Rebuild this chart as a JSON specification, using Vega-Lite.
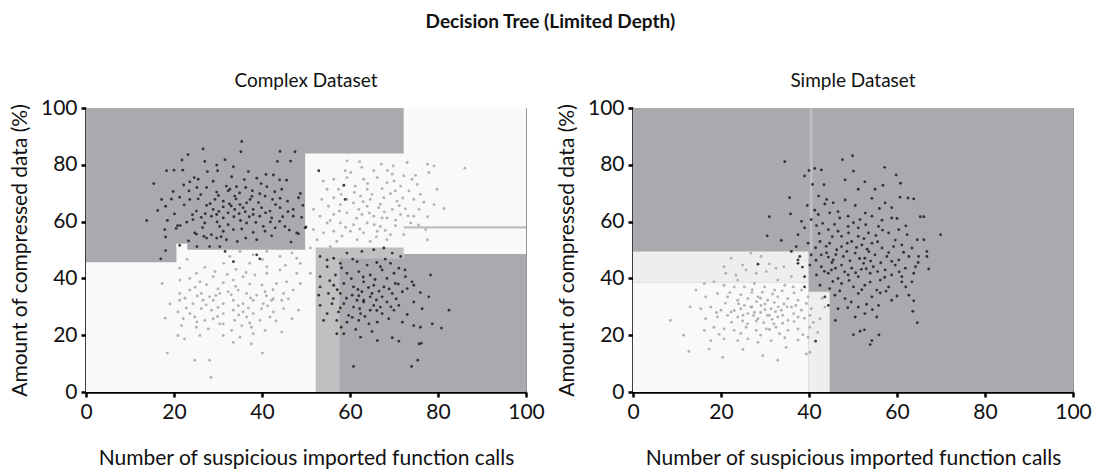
{
"$schema":"https://vega.github.io/schema/vega-lite/v6.json",
"background":"white",
"padding":{"left":8,"top":12,"right":5,"bottom":5},
"title":{"text":"Decision Tree (Limited Depth)","fontSize":19,"fontWeight":"bold","anchor":"middle","offset":40,"color":"#111"},
"datasets":{
"complexRegions":[
{"x":0,"x2":100,"y":0,"y2":100,"region":"light"},
{"x":0,"x2":49.8,"y":50.1,"y2":100,"region":"dark"},
{"x":49.6,"x2":72.2,"y":84.0,"y2":100,"region":"dark"},
{"x":20.5,"x2":23.0,"y":50.0,"y2":52.2,"region":"light"},
{"x":0,"x2":20.55,"y":45.7,"y2":51.0,"region":"dark"},
{"x":52.2,"x2":57.7,"y":0,"y2":50.9,"region":"mid"},
{"x":57.6,"x2":72.2,"y":47.0,"y2":50.9,"region":"mid"},
{"x":57.6,"x2":72.3,"y":0,"y2":47.1,"region":"dark"},
{"x":72.2,"x2":100,"y":0,"y2":48.6,"region":"dark"},
{"x":72.2,"x2":100,"y":57.6,"y2":58.4,"region":"mid"}
],
"simpleRegions":[
{"x":0,"x2":100,"y":0,"y2":100,"region":"dark"},
{"x":40.2,"x2":40.8,"y":49.5,"y2":100,"region":"mid"},
{"x":0,"x2":39.9,"y":38.6,"y2":49.5,"region":"offwhite"},
{"x":0,"x2":39.9,"y":0,"y2":38.6,"region":"light"},
{"x":39.9,"x2":44.7,"y":0,"y2":35.3,"region":"offwhite"}
],
"complexDark":[
{"x":35.4,"y":88.2},{"x":26.6,"y":85.6},{"x":35.2,"y":84.6},{"x":23.2,"y":83.6},{"x":44.1,"y":84.7},{"x":47.5,"y":84.6},{"x":21.8,"y":81.7},{"x":27.0,"y":81.2},{"x":31.6,"y":81.8},{"x":43.5,"y":81.2},{"x":46.5,"y":81.3},{"x":29.7,"y":79.9},{"x":33.5,"y":79.3},{"x":18.3,"y":77.9},{"x":20.0,"y":78.1},{"x":22.0,"y":78.1},{"x":27.6,"y":77.6},{"x":29.9,"y":77.9},{"x":36.9,"y":77.6},{"x":40.9,"y":76.6},{"x":38.8,"y":75.3},{"x":42.6,"y":76.4},{"x":44.0,"y":74.7},{"x":45.6,"y":74.6},{"x":15.4,"y":73.4},{"x":24.6,"y":75.5},{"x":25.5,"y":74.9},{"x":23.6,"y":74.0},{"x":31.9,"y":72.5},{"x":34.2,"y":72.3},{"x":36.3,"y":72.0},{"x":41.1,"y":72.3},{"x":23.4,"y":70.8},{"x":25.2,"y":72.0},{"x":27.4,"y":72.0},{"x":29.7,"y":70.4},{"x":32.3,"y":70.8},{"x":39.5,"y":69.8},{"x":44.5,"y":71.4},{"x":48.7,"y":69.9},{"x":17.2,"y":67.8},{"x":19.4,"y":67.9},{"x":21.3,"y":68.6},{"x":23.6,"y":67.8},{"x":25.5,"y":68.0},{"x":29.3,"y":67.8},{"x":31.2,"y":67.2},{"x":34.1,"y":68.0},{"x":35.0,"y":66.0},{"x":37.3,"y":67.8},{"x":40.7,"y":69.0},{"x":42.4,"y":67.8},{"x":44.1,"y":68.2},{"x":48.3,"y":68.4},{"x":18.1,"y":65.4},{"x":22.3,"y":65.9},{"x":25.1,"y":63.7},{"x":27.4,"y":65.7},{"x":28.9,"y":64.3},{"x":31.2,"y":65.2},{"x":33.8,"y":64.3},{"x":35.7,"y":64.9},{"x":38.0,"y":64.3},{"x":39.9,"y":64.9},{"x":41.8,"y":63.7},{"x":44.1,"y":64.9},{"x":47.1,"y":64.3},{"x":49.3,"y":65.7},{"x":13.8,"y":60.4},{"x":18.5,"y":60.4},{"x":20.8,"y":58.6},{"x":21.4,"y":58.6},{"x":24.3,"y":60.7},{"x":26.2,"y":61.5},{"x":28.5,"y":61.9},{"x":31.2,"y":61.3},{"x":33.6,"y":61.7},{"x":37.1,"y":61.7},{"x":39.5,"y":61.9},{"x":42.2,"y":61.3},{"x":44.7,"y":61.7},{"x":47.1,"y":61.9},{"x":49.0,"y":61.5},{"x":17.9,"y":57.2},{"x":20.5,"y":57.6},{"x":24.7,"y":56.0},{"x":26.8,"y":54.8},{"x":28.5,"y":55.4},{"x":31.2,"y":56.6},{"x":33.5,"y":57.2},{"x":35.4,"y":57.4},{"x":38.0,"y":56.2},{"x":40.7,"y":56.6},{"x":43.0,"y":57.8},{"x":45.2,"y":58.3},{"x":47.9,"y":56.0},{"x":49.8,"y":57.8},{"x":18.1,"y":54.6},{"x":25.1,"y":55.6},{"x":27.4,"y":54.2},{"x":29.7,"y":54.2},{"x":31.9,"y":53.6},{"x":34.4,"y":53.0},{"x":38.8,"y":53.6},{"x":46.6,"y":52.8},{"x":18.1,"y":49.8},{"x":21.3,"y":51.6},{"x":25.2,"y":51.2},{"x":28.1,"y":51.2},{"x":30.4,"y":51.2},{"x":31.6,"y":49.5},{"x":17.0,"y":46.9},{"x":33.5,"y":45.9},{"x":38.8,"y":48.3},{"x":39.5,"y":46.9},{"x":52.9,"y":77.9},{"x":58.6,"y":72.8},{"x":58.9,"y":67.8},{"x":50.0,"y":58.1},{"x":48.3,"y":55.7},{"x":32.7,"y":71.4},{"x":33.8,"y":69.0},{"x":36.5,"y":66.6},{"x":38.0,"y":62.5},{"x":29.7,"y":62.5},{"x":27.0,"y":59.5},{"x":32.3,"y":63.1},{"x":36.5,"y":59.5},{"x":40.3,"y":58.3},{"x":30.4,"y":58.3},
{"x":30.1,"y":69.2},{"x":34.9,"y":70.1},{"x":37.8,"y":70.9},{"x":42.9,"y":70.5},{"x":26.1,"y":69.5},{"x":28.2,"y":66.3},{"x":32.6,"y":66.2},{"x":36.2,"y":63.5},{"x":39.2,"y":66.7},{"x":43.1,"y":66.0},{"x":45.8,"y":67.2},{"x":24.2,"y":62.4},{"x":30.2,"y":63.6},{"x":34.8,"y":62.8},{"x":40.8,"y":63.1},{"x":45.9,"y":63.5},{"x":26.5,"y":57.9},{"x":29.8,"y":59.9},{"x":32.3,"y":58.9},{"x":35.1,"y":60.4},{"x":38.6,"y":59.7},{"x":41.9,"y":59.9},{"x":44.0,"y":60.1},{"x":46.2,"y":57.0},{"x":22.9,"y":59.8},{"x":20.1,"y":62.7},{"x":16.3,"y":63.9},{"x":19.8,"y":70.6},{"x":22.2,"y":72.9},{"x":28.9,"y":74.2},{"x":33.1,"y":75.8},{"x":36.0,"y":74.8},{"x":39.8,"y":73.4},{"x":30.7,"y":54.7},{"x":36.3,"y":54.2},{"x":42.2,"y":55.0},{"x":23.3,"y":53.2},{"x":27.1,"y":62.8},{"x":33.0,"y":65.5},{"x":37.7,"y":68.9}
],
"complexLight":[
{"x":23.0,"y":46.7},{"x":21.3,"y":43.6},{"x":25.1,"y":41.8},{"x":29.3,"y":42.4},{"x":31.3,"y":45.3},{"x":32.7,"y":47.7},{"x":35.0,"y":49.5},{"x":38.0,"y":48.3},{"x":41.1,"y":49.5},{"x":44.1,"y":47.7},{"x":47.9,"y":47.1},{"x":17.3,"y":38.2},{"x":21.3,"y":39.4},{"x":23.6,"y":40.0},{"x":25.9,"y":38.8},{"x":28.9,"y":40.6},{"x":31.2,"y":38.5},{"x":33.5,"y":39.4},{"x":35.7,"y":40.6},{"x":38.4,"y":41.2},{"x":41.1,"y":41.8},{"x":43.3,"y":38.2},{"x":45.6,"y":38.8},{"x":47.9,"y":41.8},{"x":48.7,"y":38.2},{"x":21.3,"y":34.7},{"x":23.6,"y":35.9},{"x":26.2,"y":34.7},{"x":28.1,"y":33.5},{"x":30.4,"y":34.7},{"x":32.3,"y":35.3},{"x":34.6,"y":35.9},{"x":36.5,"y":34.7},{"x":38.8,"y":34.1},{"x":40.7,"y":35.3},{"x":42.6,"y":32.9},{"x":44.9,"y":34.7},{"x":47.1,"y":35.9},{"x":21.3,"y":32.3},{"x":24.3,"y":31.1},{"x":26.6,"y":32.3},{"x":28.9,"y":32.3},{"x":31.2,"y":31.1},{"x":33.5,"y":32.3},{"x":35.7,"y":31.1},{"x":38.0,"y":32.3},{"x":40.3,"y":31.1},{"x":42.2,"y":32.3},{"x":44.5,"y":32.3},{"x":20.9,"y":28.2},{"x":23.6,"y":27.6},{"x":26.2,"y":29.3},{"x":28.5,"y":28.8},{"x":31.2,"y":27.6},{"x":33.5,"y":28.8},{"x":35.7,"y":28.2},{"x":38.0,"y":27.6},{"x":39.9,"y":29.3},{"x":42.6,"y":28.2},{"x":44.9,"y":29.3},{"x":48.3,"y":28.8},{"x":22.1,"y":25.8},{"x":24.7,"y":26.4},{"x":27.0,"y":25.2},{"x":28.9,"y":25.8},{"x":31.2,"y":24.0},{"x":33.8,"y":25.2},{"x":36.5,"y":26.4},{"x":39.5,"y":25.2},{"x":41.8,"y":26.4},{"x":21.7,"y":23.4},{"x":25.1,"y":22.8},{"x":27.8,"y":22.2},{"x":30.4,"y":24.0},{"x":33.1,"y":21.7},{"x":35.4,"y":23.4},{"x":37.6,"y":22.8},{"x":40.7,"y":21.7},{"x":44.5,"y":21.1},{"x":20.9,"y":19.9},{"x":22.4,"y":18.7},{"x":25.9,"y":19.9},{"x":31.2,"y":19.9},{"x":33.5,"y":17.5},{"x":37.6,"y":16.9},{"x":18.5,"y":13.7},{"x":24.7,"y":11.2},{"x":28.1,"y":11.2},{"x":40.1,"y":13.7},{"x":28.4,"y":5.1},{"x":38.0,"y":20.5},{"x":35.0,"y":19.3},
{"x":24.8,"y":36.9},{"x":27.4,"y":37.8},{"x":30.0,"y":36.3},{"x":34.0,"y":37.2},{"x":37.2,"y":38.0},{"x":40.0,"y":37.7},{"x":42.5,"y":36.0},{"x":22.5,"y":33.0},{"x":25.3,"y":33.8},{"x":29.5,"y":34.0},{"x":33.0,"y":34.2},{"x":37.4,"y":33.1},{"x":41.0,"y":33.9},{"x":46.0,"y":32.8},{"x":22.8,"y":29.6},{"x":27.3,"y":30.7},{"x":30.0,"y":29.8},{"x":34.6,"y":30.4},{"x":36.9,"y":29.6},{"x":41.3,"y":30.3},{"x":25.2,"y":24.7},{"x":29.9,"y":26.6},{"x":34.7,"y":27.1},{"x":37.2,"y":24.3},{"x":43.2,"y":25.0},{"x":27.0,"y":43.9},{"x":34.1,"y":43.2},{"x":37.2,"y":45.3},{"x":40.1,"y":46.6},{"x":45.3,"y":44.6},{"x":19.1,"y":31.0},{"x":18.0,"y":26.0},{"x":46.8,"y":25.8},{"x":32.1,"y":41.4},{"x":36.4,"y":42.1},
{"x":59.3,"y":81.4},{"x":62.2,"y":81.1},{"x":67.1,"y":80.2},{"x":69.8,"y":79.6},{"x":73.0,"y":80.8},{"x":77.6,"y":80.2},{"x":86.1,"y":78.8},{"x":58.9,"y":77.9},{"x":62.7,"y":79.1},{"x":65.4,"y":77.9},{"x":69.6,"y":76.7},{"x":72.2,"y":76.1},{"x":74.1,"y":74.9},{"x":77.9,"y":77.3},{"x":56.3,"y":74.9},{"x":59.3,"y":75.5},{"x":63.1,"y":74.9},{"x":66.2,"y":75.5},{"x":68.4,"y":73.7},{"x":71.5,"y":72.5},{"x":75.3,"y":73.1},{"x":79.8,"y":71.4},{"x":54.8,"y":71.4},{"x":57.4,"y":71.4},{"x":61.2,"y":72.5},{"x":63.9,"y":71.4},{"x":67.3,"y":71.6},{"x":70.3,"y":70.8},{"x":73.4,"y":70.8},{"x":76.0,"y":69.6},{"x":79.1,"y":66.0},{"x":81.4,"y":64.6},{"x":53.6,"y":67.8},{"x":56.3,"y":68.4},{"x":59.3,"y":67.8},{"x":62.4,"y":69.0},{"x":64.6,"y":67.8},{"x":67.7,"y":68.4},{"x":70.7,"y":67.2},{"x":74.5,"y":67.8},{"x":51.7,"y":64.3},{"x":55.1,"y":65.4},{"x":57.8,"y":66.0},{"x":60.8,"y":66.6},{"x":63.9,"y":65.4},{"x":66.5,"y":64.9},{"x":69.6,"y":64.3},{"x":72.6,"y":64.5},{"x":75.7,"y":64.3},{"x":53.2,"y":61.9},{"x":56.3,"y":62.5},{"x":59.3,"y":63.1},{"x":62.7,"y":62.5},{"x":65.4,"y":61.9},{"x":68.4,"y":61.3},{"x":71.5,"y":62.5},{"x":74.5,"y":61.9},{"x":77.6,"y":61.7},{"x":54.8,"y":59.5},{"x":57.8,"y":59.5},{"x":60.8,"y":58.9},{"x":63.9,"y":59.5},{"x":66.9,"y":58.3},{"x":70.3,"y":58.6},{"x":73.8,"y":59.5},{"x":77.2,"y":57.2},{"x":51.7,"y":57.2},{"x":56.3,"y":56.6},{"x":60.1,"y":56.6},{"x":63.1,"y":56.0},{"x":66.2,"y":56.6},{"x":69.2,"y":55.4},{"x":72.2,"y":55.4},{"x":77.6,"y":53.6},{"x":52.5,"y":53.6},{"x":57.0,"y":53.0},{"x":61.6,"y":53.6},{"x":64.6,"y":53.0},{"x":68.4,"y":53.6},{"x":51.0,"y":50.7},{"x":55.5,"y":51.2},{"x":46.8,"y":48.9},{"x":48.7,"y":45.3},{"x":51.0,"y":41.8},{"x":44.1,"y":43.0},{"x":41.1,"y":44.1},{"x":79.1,"y":79.6},{"x":70.0,"y":74.3},{"x":65.0,"y":69.6},{"x":62.0,"y":64.3},{"x":67.3,"y":61.3},
{"x":58.0,"y":69.6},{"x":61.0,"y":70.3},{"x":64.0,"y":73.4},{"x":66.9,"y":66.1},{"x":69.2,"y":69.8},{"x":72.0,"y":68.3},{"x":57.6,"y":63.7},{"x":61.5,"y":61.2},{"x":64.4,"y":63.0},{"x":67.8,"y":63.4},{"x":70.4,"y":60.5},{"x":73.2,"y":62.0},{"x":55.5,"y":60.4},{"x":59.0,"y":58.0},{"x":62.2,"y":57.4},{"x":65.5,"y":58.9},{"x":68.0,"y":56.9},{"x":75.6,"y":58.8},{"x":54.0,"y":56.0},{"x":58.2,"y":54.9},{"x":66.0,"y":54.6},{"x":71.2,"y":65.6},{"x":60.2,"y":77.3},{"x":68.5,"y":78.0},{"x":74.9,"y":76.3},{"x":53.9,"y":74.3},{"x":76.8,"y":66.8},{"x":63.0,"y":67.0}
],
"complexDark2":[
{"x":53.2,"y":47.7},{"x":56.3,"y":47.1},{"x":59.3,"y":48.9},{"x":62.7,"y":49.5},{"x":65.4,"y":50.1},{"x":67.7,"y":50.7},{"x":69.6,"y":48.9},{"x":71.5,"y":47.7},{"x":54.8,"y":44.1},{"x":57.8,"y":45.3},{"x":61.6,"y":45.9},{"x":63.9,"y":44.7},{"x":66.9,"y":44.1},{"x":69.2,"y":45.3},{"x":71.1,"y":43.6},{"x":53.2,"y":40.6},{"x":56.7,"y":41.2},{"x":59.3,"y":41.8},{"x":62.0,"y":42.4},{"x":64.6,"y":41.2},{"x":67.3,"y":43.0},{"x":70.0,"y":41.8},{"x":72.6,"y":40.6},{"x":74.1,"y":38.8},{"x":78.3,"y":41.2},{"x":53.2,"y":37.0},{"x":56.3,"y":37.6},{"x":58.6,"y":38.2},{"x":60.8,"y":37.0},{"x":63.1,"y":38.8},{"x":65.4,"y":37.6},{"x":67.7,"y":37.0},{"x":70.3,"y":38.2},{"x":73.0,"y":36.4},{"x":74.5,"y":37.6},{"x":52.9,"y":34.1},{"x":55.1,"y":34.7},{"x":57.8,"y":34.7},{"x":60.5,"y":34.1},{"x":62.7,"y":35.3},{"x":65.0,"y":34.7},{"x":67.3,"y":33.5},{"x":69.6,"y":34.7},{"x":71.9,"y":35.3},{"x":74.5,"y":31.7},{"x":77.9,"y":33.5},{"x":53.2,"y":30.5},{"x":55.9,"y":31.1},{"x":58.6,"y":31.1},{"x":60.8,"y":29.9},{"x":63.1,"y":31.7},{"x":65.4,"y":30.5},{"x":68.4,"y":31.7},{"x":71.1,"y":30.5},{"x":76.4,"y":29.3},{"x":82.5,"y":28.8},{"x":54.8,"y":27.6},{"x":57.4,"y":28.2},{"x":59.7,"y":27.0},{"x":62.4,"y":27.6},{"x":64.6,"y":28.8},{"x":67.3,"y":27.6},{"x":70.0,"y":28.8},{"x":57.0,"y":25.2},{"x":59.3,"y":24.6},{"x":62.0,"y":25.2},{"x":64.3,"y":24.0},{"x":66.2,"y":24.6},{"x":68.8,"y":25.8},{"x":71.9,"y":24.6},{"x":74.5,"y":23.4},{"x":76.0,"y":22.8},{"x":78.7,"y":24.0},{"x":80.8,"y":22.5},{"x":54.0,"y":25.2},{"x":57.0,"y":20.5},{"x":58.6,"y":20.5},{"x":62.4,"y":19.3},{"x":66.2,"y":18.1},{"x":69.6,"y":19.1},{"x":71.1,"y":17.9},{"x":75.7,"y":16.9},{"x":76.2,"y":17.2},{"x":60.8,"y":9.0},{"x":74.0,"y":9.0},{"x":75.4,"y":11.2},{"x":54.8,"y":46.5},{"x":63.1,"y":32.3},{"x":64.6,"y":33.5},{"x":61.6,"y":32.3},{"x":66.9,"y":29.9},
{"x":58.1,"y":43.7},{"x":60.3,"y":39.9},{"x":63.0,"y":40.5},{"x":65.7,"y":39.6},{"x":68.4,"y":40.0},{"x":66.1,"y":45.6},{"x":60.6,"y":46.8},{"x":55.4,"y":39.2},{"x":57.1,"y":36.0},{"x":61.8,"y":36.1},{"x":64.2,"y":36.8},{"x":66.6,"y":35.5},{"x":68.9,"y":36.3},{"x":71.0,"y":38.0},{"x":56.2,"y":32.9},{"x":59.2,"y":33.0},{"x":62.0,"y":33.9},{"x":66.0,"y":32.4},{"x":70.5,"y":32.8},{"x":57.8,"y":29.6},{"x":62.2,"y":29.3},{"x":66.1,"y":28.7},{"x":69.3,"y":30.0},{"x":60.5,"y":26.3},{"x":63.4,"y":26.6},{"x":58.0,"y":22.8},{"x":61.3,"y":22.0},{"x":65.0,"y":21.3},{"x":73.0,"y":27.3},{"x":72.5,"y":43.0},{"x":76.0,"y":35.0},{"x":68.0,"y":46.8}
],
"simpleDark":[
{"x":34.5,"y":81.1},{"x":47.6,"y":81.8},{"x":49.9,"y":83.2},{"x":40.0,"y":78.0},{"x":41.3,"y":78.7},{"x":42.8,"y":78.2},{"x":39.0,"y":76.1},{"x":50.1,"y":77.8},{"x":57.2,"y":79.1},{"x":59.8,"y":76.4},{"x":40.8,"y":73.1},{"x":43.4,"y":73.0},{"x":48.2,"y":74.7},{"x":51.2,"y":71.4},{"x":52.7,"y":74.0},{"x":55.0,"y":71.4},{"x":56.8,"y":72.8},{"x":60.8,"y":73.5},{"x":35.6,"y":68.4},{"x":39.6,"y":65.7},{"x":41.3,"y":64.0},{"x":43.6,"y":66.2},{"x":45.5,"y":66.6},{"x":48.2,"y":67.6},{"x":50.5,"y":65.7},{"x":54.3,"y":68.2},{"x":57.3,"y":66.6},{"x":58.8,"y":64.9},{"x":60.7,"y":68.6},{"x":62.5,"y":68.3},{"x":63.8,"y":68.0},{"x":31.0,"y":61.7},{"x":35.8,"y":62.7},{"x":38.3,"y":60.1},{"x":40.5,"y":60.7},{"x":42.1,"y":62.5},{"x":44.7,"y":63.1},{"x":47.0,"y":61.3},{"x":48.9,"y":61.9},{"x":51.6,"y":60.7},{"x":54.3,"y":61.9},{"x":56.6,"y":60.5},{"x":58.8,"y":61.3},{"x":60.0,"y":61.1},{"x":65.3,"y":61.7},{"x":66.1,"y":61.7},{"x":30.5,"y":55.0},{"x":33.7,"y":53.4},{"x":37.5,"y":55.4},{"x":39.0,"y":57.8},{"x":41.7,"y":58.6},{"x":44.4,"y":57.2},{"x":46.6,"y":56.6},{"x":48.9,"y":58.3},{"x":51.2,"y":57.8},{"x":53.5,"y":56.0},{"x":55.8,"y":58.3},{"x":58.1,"y":56.0},{"x":60.4,"y":57.2},{"x":62.3,"y":55.4},{"x":64.6,"y":53.6},{"x":66.1,"y":53.6},{"x":69.9,"y":55.4},{"x":37.1,"y":51.2},{"x":39.8,"y":52.4},{"x":42.5,"y":53.0},{"x":44.7,"y":52.4},{"x":47.4,"y":51.2},{"x":49.7,"y":53.0},{"x":52.0,"y":51.8},{"x":54.3,"y":52.4},{"x":56.6,"y":50.7},{"x":59.2,"y":51.2},{"x":61.1,"y":51.8},{"x":63.4,"y":50.7},{"x":66.8,"y":49.5},{"x":37.9,"y":47.7},{"x":40.5,"y":48.3},{"x":42.8,"y":48.3},{"x":45.5,"y":46.5},{"x":47.8,"y":47.7},{"x":50.5,"y":48.9},{"x":52.7,"y":47.1},{"x":55.0,"y":48.3},{"x":57.7,"y":47.7},{"x":60.4,"y":46.5},{"x":62.7,"y":47.7},{"x":64.9,"y":47.7},{"x":66.8,"y":47.7},{"x":37.5,"y":45.3},{"x":40.2,"y":44.7},{"x":42.8,"y":44.1},{"x":45.1,"y":43.0},{"x":47.4,"y":44.7},{"x":49.7,"y":43.6},{"x":52.4,"y":45.3},{"x":54.6,"y":44.1},{"x":57.3,"y":43.0},{"x":59.6,"y":44.7},{"x":61.9,"y":43.6},{"x":64.2,"y":44.1},{"x":67.2,"y":43.3},{"x":39.0,"y":40.6},{"x":41.7,"y":41.2},{"x":44.4,"y":41.8},{"x":46.6,"y":40.0},{"x":48.9,"y":41.2},{"x":51.2,"y":40.6},{"x":53.9,"y":41.8},{"x":56.2,"y":39.4},{"x":58.8,"y":41.2},{"x":61.1,"y":40.6},{"x":63.8,"y":41.8},{"x":39.0,"y":37.0},{"x":42.5,"y":37.6},{"x":44.7,"y":36.4},{"x":47.4,"y":38.2},{"x":50.1,"y":37.0},{"x":52.7,"y":37.6},{"x":55.4,"y":35.9},{"x":58.1,"y":37.0},{"x":61.1,"y":38.8},{"x":63.4,"y":38.8},{"x":43.6,"y":33.5},{"x":45.9,"y":34.1},{"x":48.2,"y":32.9},{"x":51.2,"y":34.7},{"x":54.3,"y":33.5},{"x":56.2,"y":34.9},{"x":58.8,"y":32.3},{"x":62.7,"y":34.1},{"x":44.4,"y":30.5},{"x":46.6,"y":29.3},{"x":48.8,"y":29.7},{"x":51.2,"y":29.9},{"x":53.1,"y":30.9},{"x":55.8,"y":30.5},{"x":63.8,"y":32.1},{"x":46.0,"y":25.2},{"x":50.5,"y":26.4},{"x":52.7,"y":27.6},{"x":55.4,"y":26.4},{"x":63.6,"y":28.4},{"x":64.6,"y":24.4},{"x":50.1,"y":20.2},{"x":51.6,"y":21.4},{"x":52.6,"y":21.9},{"x":55.9,"y":20.1},{"x":54.3,"y":18.1},{"x":53.9,"y":16.7},{"x":28.4,"y":45.0},{"x":41.5,"y":17.9},{"x":37.5,"y":46.5},{"x":46.3,"y":50.1},{"x":48.6,"y":49.5},{"x":51.2,"y":54.8},{"x":47.4,"y":54.8},{"x":46.1,"y":48.4},{"x":49.3,"y":46.2},{"x":50.8,"y":50.9},{"x":45.2,"y":45.6},{"x":53.6,"y":49.4},{"x":48.1,"y":42.3},{"x":44.0,"y":49.0},{"x":51.9,"y":43.2},
{"x":43.1,"y":59.4},{"x":45.8,"y":59.0},{"x":50.1,"y":59.6},{"x":52.9,"y":58.9},{"x":56.7,"y":57.0},{"x":42.3,"y":55.8},{"x":45.3,"y":54.7},{"x":49.0,"y":56.0},{"x":52.5,"y":54.0},{"x":55.2,"y":55.1},{"x":59.6,"y":53.5},{"x":41.5,"y":50.8},{"x":43.9,"y":51.3},{"x":48.7,"y":52.4},{"x":53.2,"y":50.3},{"x":55.6,"y":52.9},{"x":58.1,"y":49.1},{"x":61.5,"y":49.2},{"x":41.6,"y":46.4},{"x":44.4,"y":47.5},{"x":51.5,"y":47.0},{"x":54.0,"y":46.1},{"x":56.3,"y":45.5},{"x":58.8,"y":46.0},{"x":43.5,"y":42.5},{"x":46.0,"y":43.6},{"x":50.6,"y":42.0},{"x":53.0,"y":43.4},{"x":55.6,"y":42.4},{"x":60.5,"y":42.3},{"x":45.4,"y":38.9},{"x":49.1,"y":39.3},{"x":53.9,"y":38.7},{"x":57.2,"y":40.4},{"x":47.0,"y":35.6},{"x":52.0,"y":36.0},{"x":57.5,"y":35.5},{"x":49.6,"y":31.7},{"x":54.4,"y":29.0},{"x":46.6,"y":63.5},{"x":52.8,"y":63.0},{"x":44.0,"y":67.8},{"x":56.0,"y":64.6},{"x":62.0,"y":58.5},{"x":64.8,"y":45.6},{"x":62.0,"y":37.0},{"x":60.0,"y":33.8},{"x":38.5,"y":44.0},{"x":36.0,"y":49.5},{"x":42.2,"y":69.0}
],
"simpleLight":[
{"x":26.8,"y":48.9},{"x":29.1,"y":47.7},{"x":31.0,"y":45.1},{"x":22.3,"y":47.1},{"x":24.9,"y":44.7},{"x":21.1,"y":41.8},{"x":23.4,"y":41.2},{"x":25.7,"y":43.0},{"x":28.0,"y":41.8},{"x":30.3,"y":42.4},{"x":32.5,"y":43.6},{"x":34.3,"y":44.1},{"x":14.3,"y":35.9},{"x":16.2,"y":38.2},{"x":18.4,"y":38.8},{"x":20.7,"y":37.6},{"x":23.0,"y":37.0},{"x":25.3,"y":37.0},{"x":27.6,"y":38.2},{"x":29.9,"y":37.0},{"x":32.2,"y":35.9},{"x":34.5,"y":37.6},{"x":36.4,"y":37.0},{"x":38.3,"y":35.9},{"x":16.5,"y":33.5},{"x":19.2,"y":34.7},{"x":21.5,"y":33.5},{"x":23.8,"y":32.3},{"x":26.1,"y":32.9},{"x":28.4,"y":33.5},{"x":30.6,"y":32.3},{"x":32.9,"y":33.5},{"x":35.2,"y":32.9},{"x":37.5,"y":32.3},{"x":39.8,"y":33.5},{"x":15.4,"y":29.3},{"x":17.7,"y":29.9},{"x":20.0,"y":28.8},{"x":22.3,"y":28.2},{"x":24.5,"y":29.3},{"x":26.8,"y":29.9},{"x":29.1,"y":30.5},{"x":31.4,"y":29.3},{"x":33.7,"y":28.8},{"x":36.0,"y":29.9},{"x":38.3,"y":28.8},{"x":40.5,"y":29.3},{"x":43.6,"y":29.9},{"x":8.5,"y":25.2},{"x":16.5,"y":25.8},{"x":19.2,"y":26.4},{"x":21.5,"y":27.0},{"x":23.8,"y":26.4},{"x":26.1,"y":27.6},{"x":28.4,"y":25.8},{"x":30.6,"y":27.0},{"x":32.9,"y":26.4},{"x":35.2,"y":25.2},{"x":37.5,"y":26.4},{"x":40.2,"y":27.0},{"x":42.5,"y":25.8},{"x":16.2,"y":21.7},{"x":18.4,"y":22.8},{"x":20.7,"y":22.2},{"x":23.0,"y":21.7},{"x":25.7,"y":22.8},{"x":28.0,"y":21.7},{"x":30.3,"y":22.2},{"x":32.5,"y":22.8},{"x":35.2,"y":21.7},{"x":37.5,"y":22.2},{"x":40.2,"y":22.8},{"x":17.7,"y":18.1},{"x":20.7,"y":18.7},{"x":23.8,"y":18.1},{"x":26.1,"y":18.7},{"x":28.4,"y":17.5},{"x":31.4,"y":18.1},{"x":34.5,"y":19.1},{"x":37.5,"y":18.3},{"x":39.8,"y":19.3},{"x":12.7,"y":14.3},{"x":17.3,"y":15.1},{"x":20.4,"y":12.2},{"x":29.5,"y":12.8},{"x":32.9,"y":11.2},{"x":34.8,"y":15.7},{"x":39.4,"y":13.4},{"x":40.2,"y":14.0},{"x":20.7,"y":44.1},{"x":23.8,"y":39.4},{"x":32.9,"y":39.4},{"x":36.0,"y":40.6},{"x":27.0,"y":30.0},{"x":29.0,"y":28.0},{"x":31.0,"y":27.0},{"x":33.0,"y":30.0},{"x":25.0,"y":27.0},{"x":28.0,"y":25.0},{"x":32.0,"y":24.0},{"x":30.0,"y":31.0},{"x":26.0,"y":24.0},{"x":34.0,"y":27.0},{"x":29.0,"y":33.0},{"x":24.0,"y":31.0},{"x":35.0,"y":30.0},{"x":31.0,"y":22.0},{"x":27.0,"y":35.0},
{"x":22.0,"y":35.0},{"x":24.5,"y":34.2},{"x":27.1,"y":36.0},{"x":29.4,"y":35.1},{"x":31.7,"y":34.5},{"x":33.9,"y":35.6},{"x":36.6,"y":34.9},{"x":21.0,"y":31.3},{"x":25.3,"y":30.5},{"x":28.1,"y":31.8},{"x":32.1,"y":31.5},{"x":34.3,"y":31.0},{"x":37.0,"y":30.5},{"x":39.4,"y":31.2},{"x":19.0,"y":28.0},{"x":23.0,"y":28.7},{"x":27.6,"y":28.0},{"x":30.0,"y":29.0},{"x":32.4,"y":28.3},{"x":36.5,"y":27.6},{"x":39.0,"y":26.0},{"x":22.4,"y":24.6},{"x":24.9,"y":25.0},{"x":27.4,"y":26.9},{"x":29.7,"y":24.4},{"x":31.6,"y":25.6},{"x":34.0,"y":24.2},{"x":36.6,"y":24.8},{"x":41.0,"y":24.5},{"x":19.6,"y":20.3},{"x":24.5,"y":20.6},{"x":29.0,"y":20.0},{"x":33.3,"y":20.5},{"x":38.6,"y":20.2},{"x":42.0,"y":21.0},{"x":13.0,"y":30.0},{"x":11.5,"y":20.0},{"x":25.0,"y":15.0},{"x":43.0,"y":33.0},{"x":41.5,"y":37.5}
]
},
"hconcat":[
{
"width":440,"height":284,
"title":{"text":"Complex Dataset","frame":"group","offset":6,"fontSize":19,"fontWeight":"normal","color":"#111"},
"layer":[
{"data":{"name":"complexRegions"},"mark":{"type":"rect"},
"encoding":{
"x":{"field":"x","type":"quantitative","scale":{"domain":[0,100],"nice":false,"zero":false},"axis":{"title":"Number of suspicious imported function calls","values":[0,20,40,60,80,100]}},
"x2":{"field":"x2"},
"y":{"field":"y","type":"quantitative","scale":{"domain":[0,100],"nice":false,"zero":false},"axis":{"title":"Amount of compressed data (%)","values":[0,20,40,60,80,100]}},
"y2":{"field":"y2"},
"color":{"field":"region","type":"nominal","scale":{"domain":["light","offwhite","mid","dark"],"range":["#f9f9f9","#eeeeee","#bfc0c2","#a9aaae"]},"legend":null}}},
{"data":{"name":"complexLight"},"mark":{"type":"circle","size":8,"color":"#a9a9a9","opacity":0.9},"encoding":{"x":{"field":"x","type":"quantitative"},"y":{"field":"y","type":"quantitative"}}},
{"data":{"name":"complexDark"},"mark":{"type":"circle","size":8,"color":"#262626","opacity":0.9},"encoding":{"x":{"field":"x","type":"quantitative"},"y":{"field":"y","type":"quantitative"}}},
{"data":{"name":"complexDark2"},"mark":{"type":"circle","size":8,"color":"#262626","opacity":0.9},"encoding":{"x":{"field":"x","type":"quantitative"},"y":{"field":"y","type":"quantitative"}}},
{"mark":{"type":"rule","color":"#000","strokeWidth":2.5},"encoding":{"y":{"datum":100,"type":"quantitative"}}}
]
},
{
"width":440,"height":284,
"title":{"text":"Simple Dataset","frame":"group","offset":6,"fontSize":19,"fontWeight":"normal","color":"#111"},
"layer":[
{"data":{"name":"simpleRegions"},"mark":{"type":"rect"},
"encoding":{
"x":{"field":"x","type":"quantitative","scale":{"domain":[0,100],"nice":false,"zero":false},"axis":{"title":"Number of suspicious imported function calls","values":[0,20,40,60,80,100]}},
"x2":{"field":"x2"},
"y":{"field":"y","type":"quantitative","scale":{"domain":[0,100],"nice":false,"zero":false},"axis":{"title":"Amount of compressed data (%)","values":[0,20,40,60,80,100]}},
"y2":{"field":"y2"},
"color":{"field":"region","type":"nominal","scale":{"domain":["light","offwhite","mid","dark"],"range":["#f9f9f9","#eeeeee","#bfc0c2","#a9aaae"]},"legend":null}}},
{"data":{"name":"simpleLight"},"mark":{"type":"circle","size":8,"color":"#a9a9a9","opacity":0.9},"encoding":{"x":{"field":"x","type":"quantitative"},"y":{"field":"y","type":"quantitative"}}},
{"data":{"name":"simpleDark"},"mark":{"type":"circle","size":8,"color":"#262626","opacity":0.9},"encoding":{"x":{"field":"x","type":"quantitative"},"y":{"field":"y","type":"quantitative"}}},
{"mark":{"type":"rule","color":"#000","strokeWidth":2.5},"encoding":{"y":{"datum":100,"type":"quantitative"}}}
]
}
],
"spacing":107,
"bounds":"flush",
"config":{
"font":"Lato",
"view":{"stroke":"#999999","strokeWidth":1},
"axis":{"domainColor":"#000","domainWidth":2.5,"tickColor":"#000","tickWidth":2.5,"tickSize":5,"labelFontSize":21,"labelColor":"#111","titleFontSize":21,"titleFontWeight":"normal","titleColor":"#111","grid":false,"labelPadding":4,"zindex":1,"labelFlush":false,"labelBound":false},
"axisY":{"titlePadding":10},
"axisX":{"titlePadding":25}
}
}
